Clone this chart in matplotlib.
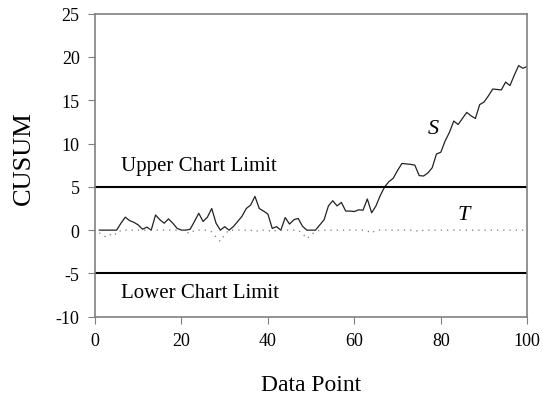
import matplotlib.pyplot as plt

# datos
points = list(range(1, 101))
s_values = [0, 0, 0, 0, 0, 0.8, 1.5, 1.1, 0.9, 0.6,
            0.1, 0.35, 0, 1.75, 1.2, 0.8, 1.3, 0.8, 0.2, 0,
            0, 0.1, 1.0, 1.95, 1.0, 1.5, 2.5, 0.8, 0, 0.4,
            0, 0.4, 1.0, 1.6, 2.5, 2.9, 3.9, 2.5, 2.2, 1.85,
            0.2, 0.4, 0, 1.45, 0.7, 1.2, 1.35, 0.45, 0, 0,
            0, 0.6, 1.2, 2.8, 3.4, 2.8, 3.2, 2.2, 2.2, 2.15,
            2.35, 2.3, 3.6, 2.0, 2.8, 4.0, 5.0, 5.6, 6.0, 6.9,
            7.7, 7.65, 7.6, 7.5, 6.3, 6.25, 6.6, 7.2, 8.8, 9.0,
            10.3, 11.3, 12.6, 12.2, 12.9, 13.6, 13.2, 12.9, 14.5, 14.8,
            15.5, 16.3, 16.25, 16.2, 17.1, 16.7, 17.9, 19.0, 18.7, 18.9]
t_values = [-0.3, -0.7, -0.8, -0.3, -0.5, 0, 0, 0, 0, 0,
            0, 0, 0, 0, 0, 0, 0, 0, 0, 0,
            -0.2, -0.4, 0, 0, 0, 0, -0.2, -0.8, -1.3, -0.5,
            0, 0, 0, 0, 0, 0, -0.2, 0, 0, 0,
            -0.2, 0, 0, 0, 0, 0, 0, -0.4, -1.0, -0.5,
            -0.2, 0, 0, 0, 0, 0, 0, 0, 0, 0,
            0, 0, -0.1, -0.35, 0, 0, 0, 0, 0, 0,
            0, 0, 0, 0, -0.2, 0, 0, 0, 0, 0,
            0, 0, 0, 0, 0, 0, 0, 0, 0, 0,
            0, 0, 0, 0, 0, 0, 0, 0, 0, 0]
upper_limit = 5
lower_limit = -5

plt.rcParams['font.family'] = ['Liberation Serif', 'DejaVu Serif']
plt.rcParams['axes.unicode_minus'] = False  # guion normal como en el original

fig = plt.figure(figsize=(5.43, 4.02), dpi=100)
ax = fig.add_axes([0.175, 0.2097, 0.796, 0.7537])

ax.plot(points, s_values, color='#222222', linewidth=0.9)
ax.plot(points, t_values, color='#777777', linewidth=0.9, linestyle=(0, (1, 4)))
ax.axhline(upper_limit, color='black', linewidth=1.5)
ax.axhline(lower_limit, color='black', linewidth=1.5)

ax.text(6, 7.5, 'Upper Chart Limit', fontsize=15, va='center', ha='left')
ax.text(6, -7.2, 'Lower Chart Limit', fontsize=15, va='center', ha='left')
ax.text(78.2, 11.7, 'S', fontsize=16, style='italic', va='center', ha='center')
ax.text(85.2, 1.85, 'T', fontsize=16, style='italic', va='center', ha='center')

ax.set_xlim(0, 100)
ax.set_ylim(-10, 25)
ax.set_xticks(range(0, 101, 20))
ax.set_yticks(range(-10, 26, 5))
ax.tick_params(labelsize=13, direction='out', length=5, color='#808080',
               top=False, right=False, pad=6)
for sp in ax.spines.values():
    sp.set_color('#808080')
    sp.set_linewidth(1.2)

ax.set_xlabel('Data Point', fontsize=17)
ax.set_ylabel('CUSUM', fontsize=19)
ax.xaxis.set_label_coords(0.5, -0.19)
ax.yaxis.set_label_coords(-0.14, 0.527)

plt.savefig('out.png', dpi=100)
plt.close()
